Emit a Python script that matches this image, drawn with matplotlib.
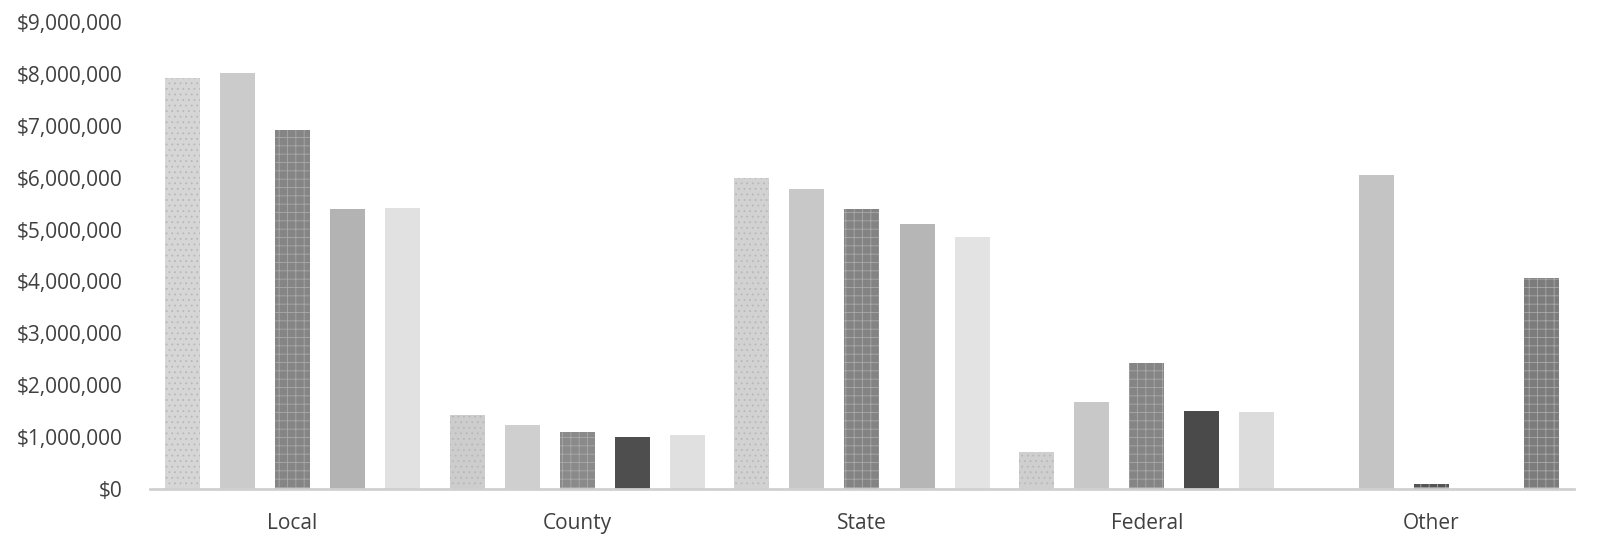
import matplotlib.pyplot as plt
import numpy as np
from matplotlib.ticker import FuncFormatter

categories = ['Local', 'County', 'State', 'Federal', 'Other']

# one list per series, in category order
series_1 = [7920000, 1430000, 5990000, 710000, 0]
series_2 = [8020000, 1230000, 5780000, 1680000, 6050000]
series_3 = [6920000, 1100000, 5390000, 2430000, 100000]
series_4 = [5390000, 1000000, 5100000, 1500000, 0]
series_5 = [5410000, 1040000, 4860000, 1480000, 4070000]

y_ticks = [0, 1000000, 2000000, 3000000, 4000000, 5000000,
           6000000, 7000000, 8000000, 9000000]

all_series = [series_1, series_2, series_3, series_4, series_5]

# fill / hatch styling, one row per series, one column per category
face = [
    ['#d6d6d6', '#cdcdcd', '#d2d2d2', '#cfcfcf', '#d6d6d6'],
    ['#cbcbcb', '#cfcfcf', '#c8c8c8', '#c8c8c8', '#c4c4c4'],
    ['#858585', '#8a8a8a', '#838383', '#858585', '#555555'],
    ['#b3b3b3', '#4e4e4e', '#b6b6b6', '#4a4a4a', '#b3b3b3'],
    ['#e1e1e1', '#e0e0e0', '#e3e3e3', '#dcdcdc', '#7c7c7c'],
]
hatches = ['...', None, '++', None, None]
hatch_col = ['#b8b8b8', '#cbcbcb', '#a9a9a9', '#b3b3b3', '#e1e1e1']

plt.rcParams['font.family'] = ['Open Sans', 'DejaVu Sans']
plt.rcParams['hatch.linewidth'] = 0.6

fig = plt.figure(figsize=(15.98, 5.35), dpi=100)
ax = fig.add_axes([0.0939, 0.086, 0.891, 0.873])

x = np.arange(len(categories))
slot = 0.1934
width = 0.123

for i, vals in enumerate(all_series):
    offs = (i - 2) * slot
    for j, v in enumerate(vals):
        h = hatches[i]
        ec = hatch_col[i]
        if i == 2 or (i == 4 and j == 4):
            h = '++'
            ec = '#a9a9a9'
        ax.bar(x[j] + offs, v, width, color=face[i][j], hatch=h,
               edgecolor=ec, linewidth=0)

ax.set_xlim(-0.5, 4.5)
ax.set_ylim(0, 9000000)
ax.set_yticks(y_ticks)
ax.yaxis.set_major_formatter(FuncFormatter(lambda v, p: '${:,.0f}'.format(v)))
ax.set_xticks(x)
ax.set_xticklabels(categories)

for s in ['top', 'right', 'left']:
    ax.spines[s].set_visible(False)
ax.spines['bottom'].set_color('#d0d0d0')
ax.spines['bottom'].set_linewidth(2)

ax.tick_params(axis='both', length=0, colors='#404040', labelsize=15)
ax.tick_params(axis='y', pad=20)
ax.tick_params(axis='x', pad=17)

fig.savefig('out.png', dpi=100, facecolor='white')
